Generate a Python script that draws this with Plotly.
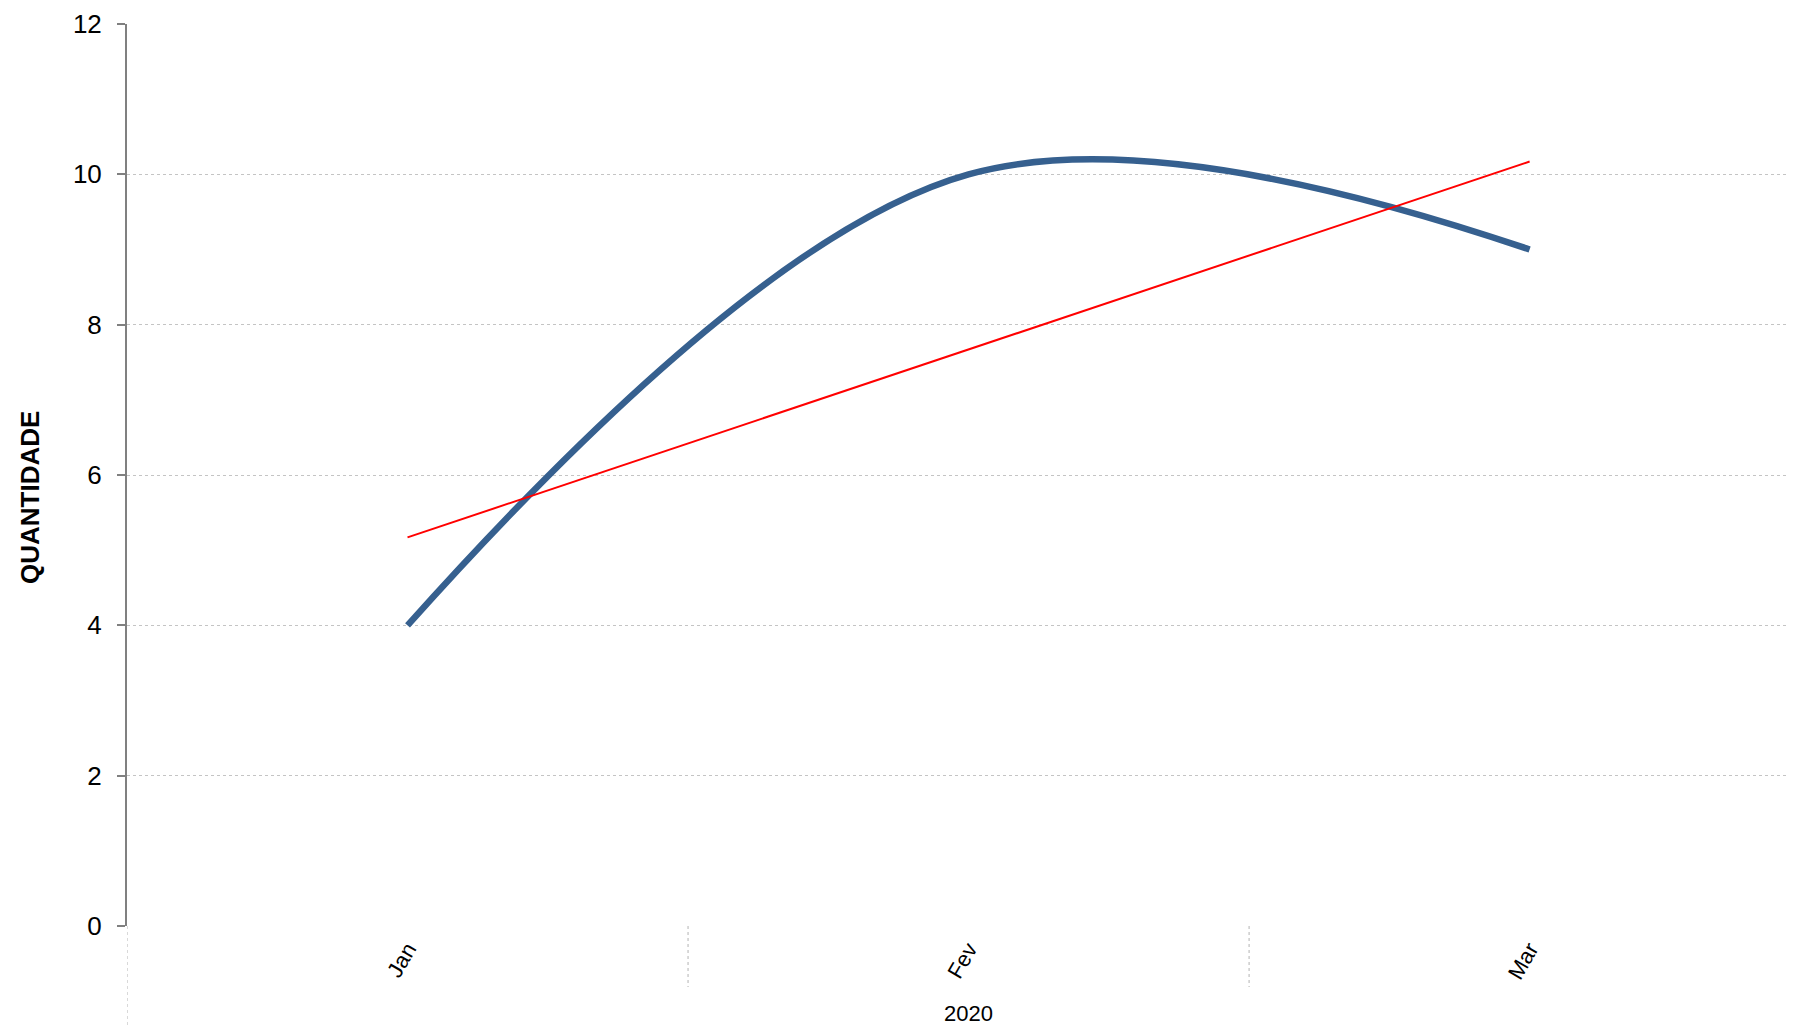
import plotly.graph_objects as go

# ---- data ----
months = ["Jan", "Fev", "Mar"]
year_label = "2020"
quantidade = [4, 10, 9]
trend = [5.17, 7.67, 10.17]   # linear trendline
y_ticks = [0, 2, 4, 6, 8, 10, 12]

FONT = "Liberation Sans, Arial, sans-serif"
# the page body adds an 8px offset; size the figure so the plot lands where the reference has it
W, H = 1787, 1017
ML, MR, MT, MB = 119, 0, 16, 99
plot_h = H - MT - MB
plot_w = W - ML - MR

fig = go.Figure()
fig.add_trace(go.Scatter(
    x=months, y=quantidade, mode="lines",
    line=dict(color="#36608f", width=6.5, shape="spline", smoothing=1.05),
    showlegend=False, hoverinfo="skip"))
fig.add_trace(go.Scatter(
    x=months, y=trend, mode="lines",
    line=dict(color="#ff0000", width=2),
    showlegend=False, hoverinfo="skip"))

def py(px_below):
    return -px_below / plot_h

shapes = []
# category dividers (dotted) below the plot
for xv, ln in [(-0.5, 99), (0.5, 61), (1.5, 61)]:
    shapes.append(dict(type="line", xref="x", yref="paper",
                       x0=xv, x1=xv, y0=0, y1=py(ln),
                       line=dict(color="#c0c0c0", width=1.2, dash="dot")))

fig.update_layout(
    width=W, height=H,
    margin=dict(l=ML, r=MR, t=MT, b=MB, pad=0),
    paper_bgcolor="white", plot_bgcolor="white",
    font=dict(family=FONT, color="black"),
    xaxis=dict(type="category", categoryorder="array", categoryarray=months,
               range=[-0.5, 2.473], showgrid=False, zeroline=False,
               showline=False, ticks="", tickangle=-60,
               tickfont=dict(size=22, family=FONT, color="black"),
               ticklabelstandoff=5),
    yaxis=dict(range=[0, 12], tickvals=y_ticks, showgrid=True,
               gridcolor="#c4c4c4", griddash="dot", gridwidth=1,
               zeroline=False, showline=True, linecolor="#808080",
               linewidth=2, ticks="outside", ticklen=8, tickwidth=2,
               tickcolor="#808080",
               tickfont=dict(size=26, family=FONT, color="black"),
               ticklabelstandoff=10),
    shapes=shapes,
    annotations=[
        dict(text=year_label, xref="x", yref="paper", x=1, y=py(87),
             showarrow=False, xanchor="center", yanchor="middle",
             font=dict(size=22, family=FONT, color="black")),
        dict(text="<b>QUANTIDADE</b>", xref="paper", yref="paper",
             x=(30 - 127) / plot_w, y=(926 - 498) / plot_h,
             textangle=-90, showarrow=False, xanchor="center", yanchor="middle",
             font=dict(size=26, family=FONT, color="black")),
    ],
)

fig.write_html("out.html")
